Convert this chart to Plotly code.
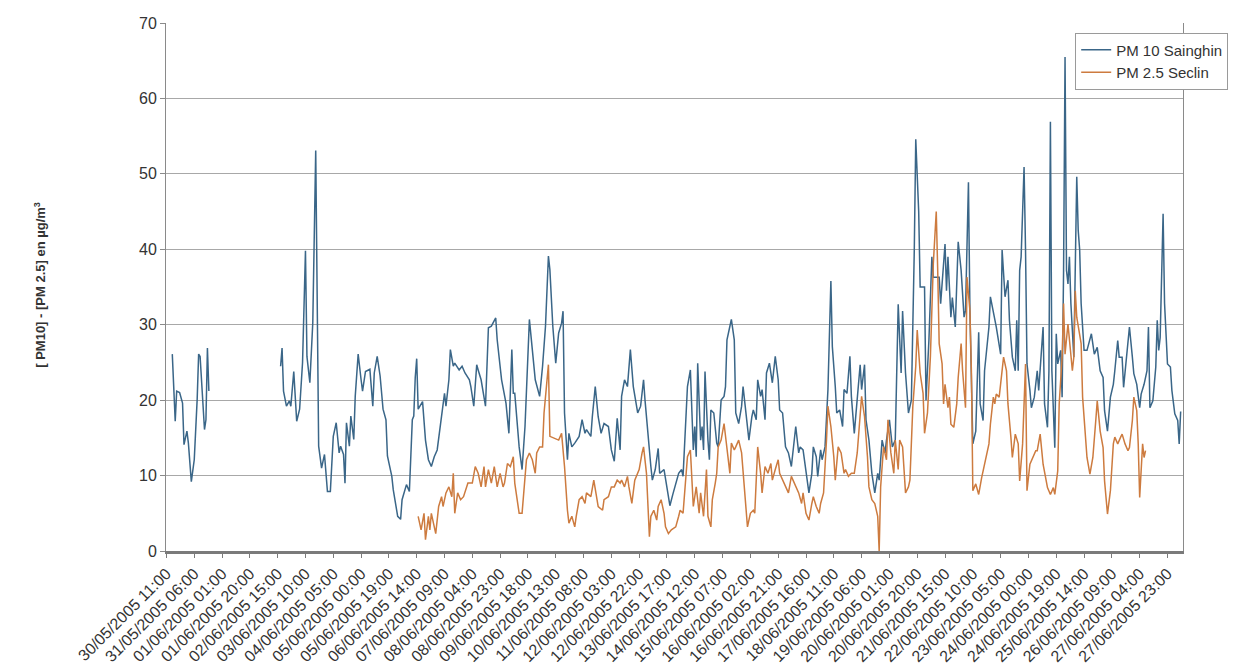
from datetime import datetime, timedelta
import plotly.graph_objects as go

# Hourly campaign, 30/05/2005 11:00 onwards; offsets are hours since that start.
start_label = "30/05/2005 11:00"

pm10_hour = [
    4, 6, 7, 9, 11, 12, 14, 15, 17, 19, 21, 22, 23, 26, 27, 28, 29,
    50,
    78, 79, 80, 82, 84, 85, 87, 89, 91, 93, 95, 96, 98, 100, 102, 103, 104, 106, 108, 110,
    112, 114, 116, 118, 119, 121, 122, 123, 125, 126, 128, 129, 131, 133, 134, 136, 139, 141,
    142, 144, 146, 148, 150, 151, 154, 155, 158, 160, 161, 164, 166, 168, 169, 170, 171, 172,
    175, 177, 179, 181, 183, 185, 187, 190, 191, 193, 194, 196, 197, 200, 202, 204, 207, 208,
    210, 212, 213, 215, 218, 220, 222, 225, 226, 229, 232, 234, 236, 237, 238, 241, 243, 245,
    248, 250, 252, 255, 257, 259, 261, 262, 264, 266, 268, 270, 271, 272, 274, 275, 277, 279,
    282, 284, 286, 287, 290, 291, 293, 295, 297, 299, 302, 304, 306, 308, 310, 311, 313, 315,
    317, 319, 322, 324, 326, 327, 329, 331, 332, 334, 336, 337, 340, 342, 344, 346, 348, 350,
    352, 353, 356, 357, 358, 360, 361, 362, 363, 365, 366, 367, 368, 370, 371, 372, 374, 376,
    377, 379, 381, 382, 383, 385, 386, 388, 389, 391, 393, 394, 396, 398, 400, 401, 403, 404,
    406, 407, 409, 410, 412, 414, 416, 418, 419, 421, 423, 425, 427, 430, 432, 433, 435, 437,
    439, 441, 442, 444, 445, 447, 448, 450, 452, 454, 455, 457, 458, 460, 462, 463, 465, 467,
    468, 470, 472, 474, 475, 477, 478, 480, 482, 484, 486, 487, 489, 491, 492, 494, 496, 498,
    500, 502, 503, 505, 507, 509, 511, 512, 514, 515, 518, 519, 521, 523, 524, 528, 529, 532,
    533, 534, 536, 537, 539, 541, 543, 545, 546, 548, 549, 550, 551, 553, 555, 556, 558, 559,
    562, 563, 565, 567, 570, 571, 573, 575, 576, 578, 580, 581, 582, 583, 584, 586, 587, 588,
    590, 591, 593, 595, 596, 597, 599, 600, 602, 603, 604, 605, 607, 608, 609, 611, 612, 613,
    614, 615, 616, 617, 618, 620, 621, 622, 623, 624, 625, 627, 629, 631, 632, 634, 636, 638,
    640, 641, 643, 645, 647, 648, 650, 651, 653, 654, 656, 658, 660, 661, 663, 665, 666, 668,
    670, 671, 672, 674, 676, 677, 678, 679, 681, 682, 684, 686, 687, 689, 691, 692, 693,
]
pm10_value = [
    26.1, 17.2, 21.2, 21.0, 19.6, 14.1, 15.9, 14.3, 9.2, 12.1, 20.1, 26.1, 25.8, 16.1, 17.4, 26.9, 21.2,
    None,
    24.5, 26.9, 21.2, 19.2, 19.9, 19.2, 23.8, 17.2, 18.8, 25.0, 39.8, 25.8, 22.3, 30.3, 53.1, 30.3, 13.9, 11.0, 12.8, 7.9,
    7.9, 15.2, 17.0, 13.0, 13.9, 12.8, 9.0, 17.0, 13.9, 17.9, 14.8, 20.5, 26.1, 22.7, 21.2, 23.8, 24.1, 19.2,
    23.6, 25.8, 23.2, 18.8, 17.4, 12.6, 9.9, 8.1, 4.6, 4.2, 6.8, 8.8, 7.9, 17.4, 17.9, 23.0, 25.5, 18.8,
    19.8, 14.7, 12.1, 11.2, 12.5, 13.4, 16.5, 20.9, 19.2, 22.7, 26.7, 24.5, 24.9, 24.0, 24.5, 23.6, 22.7, 21.8,
    19.2, 24.7, 24.0, 22.7, 19.2, 29.6, 29.8, 30.9, 28.0, 22.7, 19.6, 15.6, 26.7, 20.9, 20.9, 13.8, 10.8, 16.5,
    30.7, 27.1, 22.7, 20.5, 24.5, 29.8, 39.1, 37.3, 29.8, 24.9, 28.9, 30.2, 31.8, 18.3, 12.1, 15.6, 13.8, 14.3,
    15.2, 17.4, 15.6, 16.1, 15.2, 17.8, 21.8, 17.8, 15.6, 16.9, 16.5, 13.4, 11.9, 17.6, 13.4, 20.5, 22.7, 21.8,
    26.7, 21.8, 18.3, 19.2, 22.7, 20.0, 15.2, 11.2, 9.4, 10.8, 13.6, 10.3, 10.8, 8.6, 6.0, 7.5, 9.0, 10.3,
    10.8, 9.9, 21.8, 22.7, 24.0, 13.4, 16.5, 12.5, 24.9, 14.7, 16.5, 13.4, 23.8, 14.7, 12.1, 18.7, 18.3, 14.3,
    13.8, 20.0, 20.5, 21.8, 28.0, 29.8, 30.7, 28.0, 18.3, 16.9, 19.2, 21.8, 17.8, 14.7, 17.8, 18.7, 17.4, 22.7,
    20.5, 21.4, 17.4, 23.6, 24.9, 22.3, 25.8, 22.7, 18.7, 18.3, 13.8, 13.0, 11.2, 16.5, 13.0, 13.8, 13.4, 10.8,
    7.7, 10.3, 13.8, 12.5, 9.9, 13.4, 12.1, 13.8, 21.4, 35.8, 27.1, 21.8, 18.3, 18.7, 16.5, 21.4, 20.9, 25.8,
    20.5, 15.6, 20.5, 24.7, 21.4, 24.7, 17.4, 14.7, 10.3, 7.7, 10.3, 9.4, 14.7, 13.0, 14.7, 17.4, 13.8, 14.7,
    32.7, 23.6, 31.8, 23.6, 18.3, 20.0, 40.0, 54.6, 45.0, 35.0, 35.0, 20.0, 28.0, 39.0, 36.3, 36.3, 32.8, 40.7,
    34.5, 39.0, 31.0, 33.6, 29.7, 41.0, 37.2, 31.0, 31.9, 48.9, 31.9, 23.9, 14.2, 15.9, 29.0, 19.5, 17.3, 23.9,
    29.7, 33.7, 31.9, 29.7, 26.1, 39.9, 33.7, 35.9, 30.6, 25.7, 23.9, 30.6, 23.9, 37.2, 39.0, 50.9, 39.9, 24.8,
    21.3, 19.0, 20.4, 23.9, 21.3, 23.9, 29.7, 19.5, 16.4, 23.9, 56.9, 23.9, 13.7, 28.8, 24.8, 26.6, 20.4, 37.2,
    65.5, 37.2, 35.4, 39.0, 32.8, 25.7, 36.3, 49.6, 42.5, 39.9, 32.8, 26.6, 26.6, 28.3, 28.8, 26.1, 27.0, 23.9,
    23.0, 18.6, 15.9, 20.4, 22.1, 23.9, 27.9, 25.7, 25.7, 21.7, 25.7, 29.7, 25.7, 23.5, 22.1, 19.0, 20.8, 22.1,
    23.9, 29.7, 19.0, 19.9, 24.4, 30.6, 26.6, 28.3, 44.7, 32.8, 24.8, 24.4, 21.3, 18.2, 17.3, 14.2, 18.5,
]

pm25_hour = [
    172, 174, 176, 177, 179, 180, 181, 183, 184, 186, 188, 189, 191, 193, 195, 196, 197, 199,
    201, 203, 205, 206, 209, 211, 213, 215, 217, 218, 220, 222, 224, 226, 228, 230, 231, 233,
    235, 237, 238, 240, 241, 243, 245, 246, 248, 250, 252, 253, 255, 257, 258, 260, 261, 262,
    268, 270, 272, 274, 275, 277, 279, 280, 282, 284, 286, 287, 290, 292, 294, 295, 298, 299,
    302, 304, 306, 308, 310, 311, 313, 315, 316, 318, 320, 323, 325, 326, 328, 330, 331, 333,
    335, 336, 338, 340, 341, 343, 345, 348, 350, 351, 353, 355, 356, 358, 359, 360, 362, 364,
    365, 367, 369, 370, 372, 373, 375, 376, 377, 379, 381, 383, 385, 386, 388, 389, 391, 393,
    394, 396, 397, 399, 401, 402, 404, 406, 407, 409, 411, 413, 414, 416, 418, 419, 421, 423,
    425, 427, 430, 432, 434, 435, 437, 439, 441, 442, 444, 446, 447, 449, 451, 452, 454, 456,
    457, 459, 461, 463, 464, 466, 468, 470, 472, 473, 475, 477, 479, 480, 482, 484, 486, 487,
    488, 490, 492, 493, 495, 497, 498, 500, 501, 503, 505, 507, 508, 510, 512, 513, 515, 517,
    518, 520, 522, 524, 526, 527, 528, 530, 531, 532, 534, 535, 536, 538, 540, 541, 543, 544,
    546, 547, 549, 550, 551, 553, 555, 557, 558, 560, 562, 563, 565, 566, 567, 569, 571, 572,
    574, 575, 577, 578, 580, 582, 583, 585, 587, 588, 590, 592, 594, 595, 597, 599, 600, 602,
    604, 606, 607, 609, 610, 612, 613, 614, 616, 617, 619, 620, 621, 622, 623, 625, 626, 628,
    629, 631, 633, 635, 636, 638, 640, 641, 643, 645, 647, 648, 650, 652, 653, 655, 657, 658,
    660, 661, 663, 664, 665, 667, 668, 669,
]
pm25_value = [
    4.6, 2.8, 5.0, 1.5, 4.6, 2.8, 5.0, 3.2, 2.3, 5.9, 7.2, 5.9, 7.7, 8.5, 7.2, 10.3, 5.0, 7.7,
    6.8, 7.2, 8.5, 9.0, 9.0, 11.2, 10.3, 8.5, 11.2, 8.5, 10.8, 9.0, 11.2, 8.5, 10.3, 8.5, 9.0, 11.6,
    11.2, 12.5, 9.0, 5.9, 5.0, 5.0, 10.3, 12.1, 13.0, 12.1, 10.3, 13.0, 13.8, 13.8, 18.3, 22.7, 24.7, 15.2,
    14.7, 15.6, 11.2, 5.4, 3.7, 4.6, 3.2, 4.6, 6.8, 7.2, 6.3, 7.7, 7.2, 9.4, 6.8, 5.9, 5.4, 6.8,
    7.2, 8.5, 8.5, 9.4, 9.0, 9.4, 8.5, 9.9, 8.5, 6.3, 9.4, 10.8, 13.0, 13.8, 10.3, 1.9, 4.6, 5.4,
    4.1, 5.9, 6.8, 5.0, 3.2, 2.3, 2.8, 3.2, 4.6, 5.4, 5.0, 10.3, 12.5, 13.4, 10.3, 5.9, 8.5, 5.0,
    7.7, 4.6, 10.8, 4.6, 3.2, 6.8, 9.0, 10.3, 13.8, 14.7, 16.9, 13.8, 10.3, 14.3, 13.4, 13.8, 14.7, 13.0,
    10.8, 5.9, 3.2, 5.0, 5.4, 5.0, 13.8, 10.3, 7.7, 11.2, 10.3, 11.6, 9.4, 10.8, 12.1, 10.3, 9.4, 8.5,
    7.7, 9.9, 8.5, 7.7, 6.3, 7.7, 5.0, 4.1, 6.3, 7.2, 5.9, 5.0, 6.3, 7.7, 14.7, 19.2, 16.5, 12.5,
    9.4, 13.8, 13.0, 10.3, 10.8, 9.9, 10.3, 10.3, 13.0, 15.6, 20.5, 17.8, 12.5, 8.5, 6.8, 6.3, 4.6, 0.0,
    8.5, 13.8, 12.1, 17.4, 13.0, 10.3, 14.7, 10.8, 14.7, 13.8, 7.7, 8.5, 9.4, 19.2, 24.5, 29.3, 23.6, 20.9,
    15.6, 18.3, 25.8, 38.1, 45.0, 37.2, 27.5, 24.8, 19.5, 22.1, 19.0, 20.4, 16.8, 16.4, 19.5, 23.0, 27.5, 23.9,
    19.0, 36.3, 31.9, 23.9, 8.0, 8.9, 7.5, 9.7, 10.6, 12.4, 14.2, 16.8, 20.4, 19.5, 20.8, 20.4, 23.9, 25.7,
    23.9, 19.5, 15.1, 12.4, 15.5, 14.2, 9.3, 14.2, 24.8, 8.0, 11.5, 12.4, 13.3, 13.3, 15.5, 11.5, 10.6, 8.4,
    7.5, 8.4, 7.5, 10.6, 19.5, 25.7, 32.8, 26.1, 30.1, 28.3, 23.9, 25.7, 34.5, 31.0, 29.7, 27.5, 20.4, 15.1,
    12.4, 10.2, 12.4, 17.3, 19.9, 15.9, 13.7, 9.3, 4.9, 8.0, 14.2, 15.1, 14.2, 15.1, 15.5, 14.2, 13.3, 13.7,
    17.3, 20.4, 18.6, 14.2, 7.1, 14.2, 12.4, 13.3,
]

tick_labels = [
    "30/05/2005 11:00", "31/05/2005 06:00", "01/06/2005 01:00", "01/06/2005 20:00",
    "02/06/2005 15:00", "03/06/2005 10:00", "04/06/2005 05:00", "05/06/2005 00:00",
    "05/06/2005 19:00", "06/06/2005 14:00", "07/06/2005 09:00", "08/06/2005 04:00",
    "08/06/2005 23:00", "09/06/2005 18:00", "10/06/2005 13:00", "11/06/2005 08:00",
    "12/06/2005 03:00", "12/06/2005 22:00", "13/06/2005 17:00", "14/06/2005 12:00",
    "15/06/2005 07:00", "16/06/2005 02:00", "16/06/2005 21:00", "17/06/2005 16:00",
    "18/06/2005 11:00", "19/06/2005 06:00", "20/06/2005 01:00", "20/06/2005 20:00",
    "21/06/2005 15:00", "22/06/2005 10:00", "23/06/2005 05:00", "24/06/2005 00:00",
    "24/06/2005 19:00", "25/06/2005 14:00", "26/06/2005 09:00", "27/06/2005 04:00",
    "27/06/2005 23:00",
]

FMT = "%d/%m/%Y %H:%M"
t0 = datetime.strptime(start_label, FMT)


def stamps(hours):
    return [t0 + timedelta(hours=h) for h in hours]


tick_vals = [datetime.strptime(s, FMT) for s in tick_labels]

BLUE = "#3a6688"
ORANGE = "#cd7b3f"
FONT = "Liberation Sans, Arial, sans-serif"

fig = go.Figure()
fig.add_trace(go.Scatter(
    x=stamps(pm10_hour), y=pm10_value, mode="lines", name="PM 10 Sainghin",
    line=dict(color=BLUE, width=1.5), connectgaps=False,
))
fig.add_trace(go.Scatter(
    x=stamps(pm25_hour), y=pm25_value, mode="lines", name="PM 2.5 Seclin",
    line=dict(color=ORANGE, width=1.5),
))

fig.update_layout(
    width=1240, height=672,
    margin=dict(l=166, r=57, t=23, b=121),
    paper_bgcolor="white", plot_bgcolor="white",
    font=dict(family=FONT, color="#333333"),
    showlegend=True,
    legend=dict(
        x=0.894, y=0.982, xanchor="left", yanchor="top",
        bgcolor="white", bordercolor="#9a9a9a", borderwidth=1,
        font=dict(size=15, color="#333333"),
        itemwidth=30, tracegroupgap=0,
    ),
    xaxis=dict(
        type="date", automargin=False,
        range=[t0 - timedelta(hours=0.3), t0 + timedelta(hours=694.6)],
        tickmode="array", tickvals=tick_vals, ticktext=tick_labels,
        tickangle=-45, tickfont=dict(size=16, color="#333333"),
        showgrid=False, zeroline=False,
        showline=True, linecolor="#7a7a7a", linewidth=3,
        ticks="outside", ticklen=4, tickcolor="#7a7a7a",
    ),
    yaxis=dict(
        range=[0, 70], tick0=0, dtick=10, automargin=False,
        tickfont=dict(size=16, color="#333333"),
        showgrid=True, gridcolor="#a8a8a8", gridwidth=1,
        zeroline=False,
        showline=True, linecolor="#8a8a8a", linewidth=1, mirror=True,
        ticks="outside", ticklen=5, tickcolor="#8a8a8a",
    ),
    annotations=[dict(
        text="<b>[ PM10] - [PM 2.5] en µg/m<sup>3</sup></b>",
        xref="paper", yref="paper", x=-0.124, y=0.504,
        xanchor="center", yanchor="middle", textangle=-90,
        showarrow=False, font=dict(size=13, color="#333333"),
    )],
)

fig.write_html("out.html")
